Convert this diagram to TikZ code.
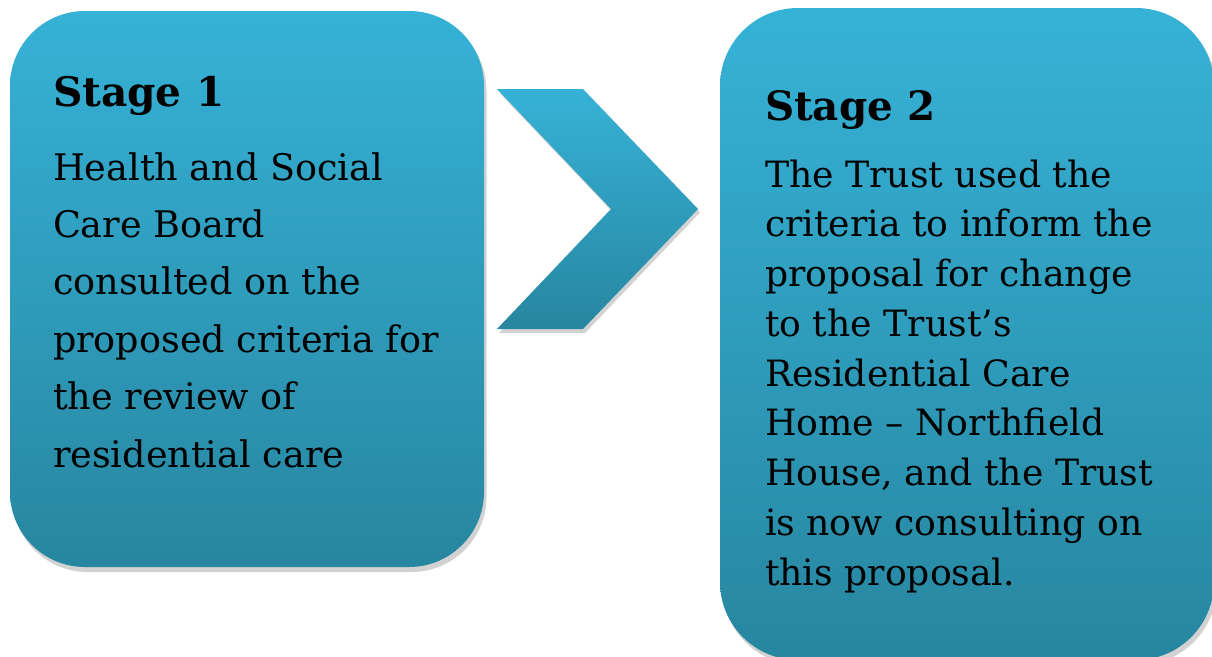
\documentclass[tikz,border=0pt]{standalone}
\usepackage{fontspec}
\newfontfamily\bodyfont{DejaVu Serif}
\definecolor{topblue}{HTML}{36B2D7}
\definecolor{botblue}{HTML}{2786A0}
\definecolor{shadowgray}{HTML}{D2D2D2}
\newlength\mywdA
\newlength\mywdB
\newlength\mywdC
\newlength\mywdD
\settowidth{\mywdA}{\bodyfont\fontsize{10pt}{12pt}\selectfont proposed criteria for}
\settowidth{\mywdB}{\bodyfont\fontsize{10pt}{12pt}\selectfont criteria to inform the}
\settowidth{\mywdC}{\bodyfont\bfseries\fontsize{10pt}{12pt}\selectfont Stage 1}
\settowidth{\mywdD}{\bodyfont\bfseries\fontsize{10pt}{12pt}\selectfont Stage 2}
\pgfmathsetmacro\szA{10.2*378/\mywdA}
\pgfmathsetmacro\szB{10.2*380/\mywdB}
\pgfmathsetmacro\szC{11.2*153/\mywdC}
\pgfmathsetmacro\szD{11.2*152/\mywdD}
\begin{document}
\begin{tikzpicture}[x=1pt,y=-1pt,
  stagebox/.style={top color=topblue,bottom color=botblue,draw=none},
  shadowshape/.style={fill=shadowgray,draw=none},
  txt/.style={anchor=base west,inner sep=0pt,outer sep=0pt,text=black}]
\useasboundingbox (0,0) rectangle (1212,656);
\clip (0,0) rectangle (1212,656);
\fill[white] (0,0) rectangle (1212,656);
% Box 1
\path[shadowshape, rounded corners=75pt] (12.5,15.5) rectangle (486.5,572);
\path[stagebox, rounded corners=75pt] (10,11) rectangle (484,567);
% Chevron
\path[shadowshape] (499,92.5) -- (585,92.5) -- (700,212.5) -- (585,333) -- (499,333) -- (613,212.5) -- cycle;
\path[stagebox] (497,89) -- (583,89) -- (698,209) -- (583,329) -- (497,329) -- (611,209) -- cycle;
% Box 2
\path[shadowshape, rounded corners=78pt] (722.5,12) rectangle (1216.5,665);
\path[stagebox, rounded corners=78pt] (720,8) rectangle (1214,660);
% Texts
\node[txt] (s1head) at (53,106) {\bodyfont\bfseries\fontsize{\szC pt}{\szC pt}\selectfont Stage 1};
\node[txt] (s1body) at (53,180) {\parbox[t]{425pt}{\raggedright\bodyfont\fontsize{\szA pt}{57.4pt}\selectfont
  Health and Social\\
  Care Board\\
  consulted on the\\
  proposed criteria for\\
  the review of\\
  residential care}};
\node[txt] (s2head) at (765,120) {\bodyfont\bfseries\fontsize{\szD pt}{\szD pt}\selectfont Stage 2};
\node[txt] (s2body) at (765,187) {\parbox[t]{430pt}{\raggedright\bodyfont\fontsize{\szB pt}{49.75pt}\selectfont
  The Trust used the\\
  criteria to inform the\\
  proposal for change\\
  to the Trust’s\\
  Residential Care\\
  Home – Northfield\\
  House, and the Trust\\
  is now consulting on\\
  this proposal.}};
\end{tikzpicture}
\end{document}
